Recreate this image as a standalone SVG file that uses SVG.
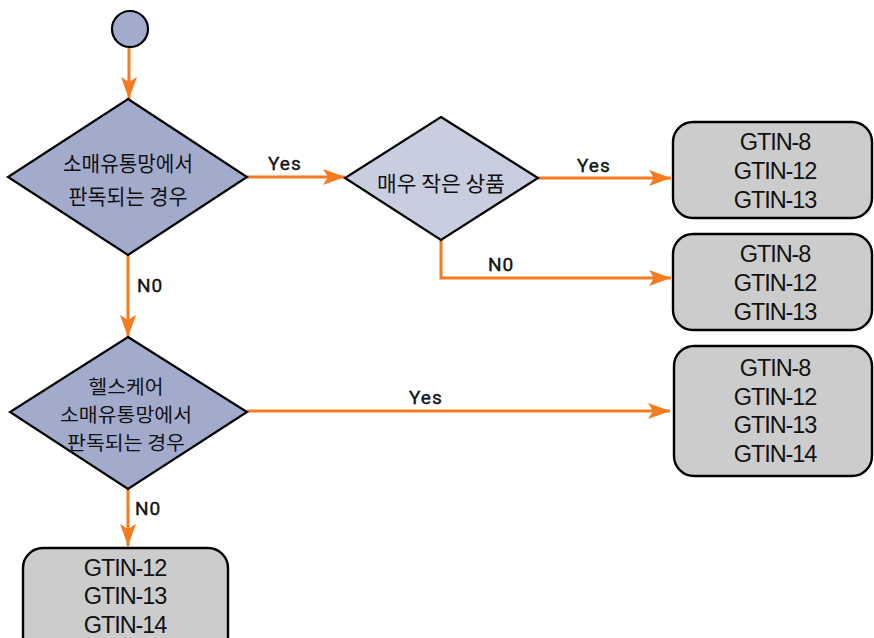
<svg xmlns="http://www.w3.org/2000/svg" width="874" height="638" viewBox="0 0 874 638">
<defs>
<marker id="ah" markerUnits="userSpaceOnUse" markerWidth="24" markerHeight="18" refX="22" refY="8" orient="auto">
<path d="M0,0 L22,8 L0,16 L5,8 Z" fill="#f47b20"/>
</marker>
<style>
.d1{fill:#a3abcc;stroke:#000;stroke-width:2.2}
.d2{fill:#c8cde0;stroke:#000;stroke-width:2.2}
.bx{fill:#cccccc;stroke:#000;stroke-width:2.4}
.ko{font-family:"Noto Sans CJK KR","Noto Sans",sans-serif;font-size:21px;fill:#111;text-anchor:middle}
.k3{font-size:19.5px}
.gt{font-family:"Liberation Sans",Arial,sans-serif;font-size:23.5px;fill:#111;text-anchor:middle;letter-spacing:-1.1px}
.lb{font-family:Roboto,"Liberation Sans",sans-serif;font-size:19px;fill:#111;letter-spacing:1px;stroke:#111;stroke-width:0.4}
.cn{fill:none;stroke:#f47b20;stroke-width:3}
</style>
</defs>
<rect width="874" height="638" fill="#fff"/>
<g id="connectors">
<line class="cn" x1="129" y1="47" x2="129" y2="99" marker-end="url(#ah)"/>
<line class="cn" x1="247" y1="177" x2="345" y2="177" marker-end="url(#ah)"/>
<line class="cn" x1="538" y1="178" x2="671" y2="178" marker-end="url(#ah)"/>
<polyline class="cn" points="441,240 441,278 671,278" marker-end="url(#ah)"/>
<line class="cn" x1="128" y1="255" x2="128" y2="337" marker-end="url(#ah)"/>
<line class="cn" x1="247" y1="411" x2="670" y2="411" marker-end="url(#ah)"/>
<line class="cn" x1="128" y1="489" x2="128" y2="546" marker-end="url(#ah)"/>
<text class="lb" x="268" y="170">Yes</text>
<text class="lb" x="577" y="172">Yes</text>
<text class="lb" x="488" y="271">N0</text>
<text class="lb" x="137" y="292">N0</text>
<text class="lb" x="409" y="404">Yes</text>
<text class="lb" x="135" y="515">N0</text>
</g>
<g id="start">
<circle cx="130" cy="29" r="18" fill="#a3abcc" stroke="#000" stroke-width="2.2"/>
</g>
<g id="dec1">
<polygon class="d1" points="128,99 247,177 128,255 8,177"/>
<text class="ko" x="128" y="171" textLength="130" lengthAdjust="spacingAndGlyphs">소매유통망에서</text>
<text class="ko" x="128" y="204" textLength="119" lengthAdjust="spacingAndGlyphs">판독되는 경우</text>
</g>
<g id="dec2">
<polygon class="d2" points="441,117 538,178 441,240 345,178"/>
<text class="ko" x="441" y="191" textLength="128" lengthAdjust="spacingAndGlyphs">매우 작은 상품</text>
</g>
<g id="dec3">
<polygon class="d1" points="128,337 247,412 128,489 10,412"/>
<text class="ko k3" x="126" y="394" textLength="75" lengthAdjust="spacingAndGlyphs">헬스케어</text>
<text class="ko k3" x="126" y="422" textLength="132" lengthAdjust="spacingAndGlyphs">소매유통망에서</text>
<text class="ko k3" x="126" y="450" textLength="118" lengthAdjust="spacingAndGlyphs">판독되는 경우</text>
</g>
<g id="box1">
<rect class="bx" x="673" y="122" width="199" height="96" rx="20"/>
<text class="gt" x="775" y="150">GTIN-8</text>
<text class="gt" x="775" y="179">GTIN-12</text>
<text class="gt" x="775" y="208">GTIN-13</text>
</g>
<g id="box2">
<rect class="bx" x="673" y="234" width="199" height="96" rx="20"/>
<text class="gt" x="775" y="262">GTIN-8</text>
<text class="gt" x="775" y="291">GTIN-12</text>
<text class="gt" x="775" y="320">GTIN-13</text>
</g>
<g id="box3">
<rect class="bx" x="674" y="346" width="198" height="130" rx="20"/>
<text class="gt" x="775" y="376">GTIN-8</text>
<text class="gt" x="775" y="405">GTIN-12</text>
<text class="gt" x="775" y="433">GTIN-13</text>
<text class="gt" x="775" y="462">GTIN-14</text>
</g>
<g id="box4">
<rect class="bx" x="23" y="548" width="205" height="110" rx="20"/>
<text class="gt" x="125" y="576">GTIN-12</text>
<text class="gt" x="125" y="604">GTIN-13</text>
<text class="gt" x="125" y="633">GTIN-14</text>
</g>
</svg>
